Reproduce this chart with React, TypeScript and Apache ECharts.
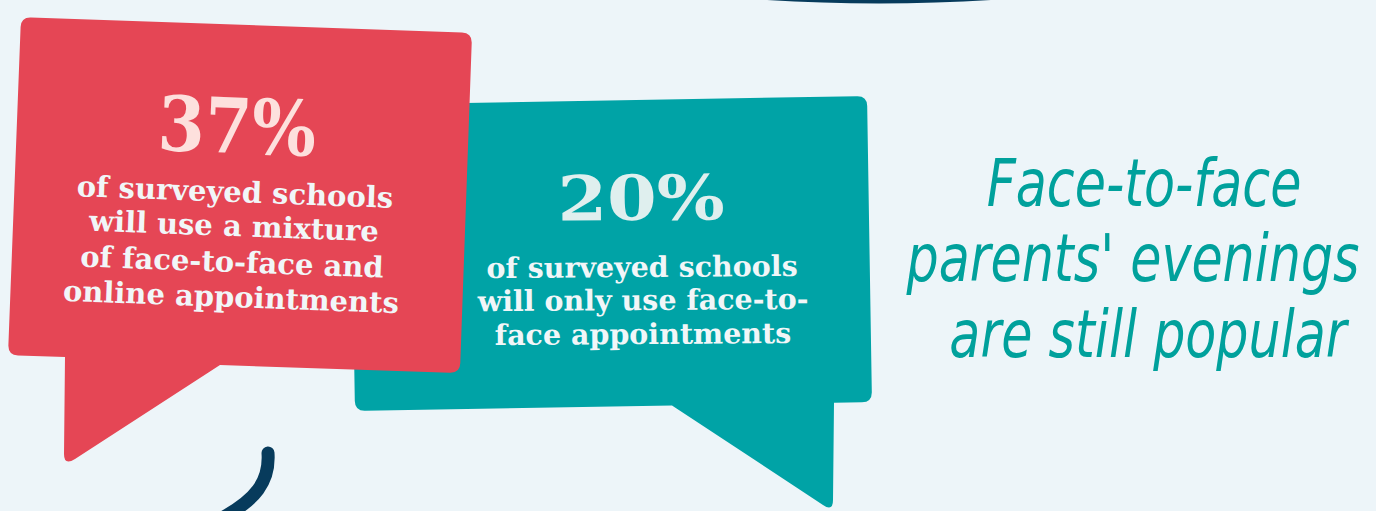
import React, { useEffect, useRef } from "react";
import * as echarts from "echarts";

// ---- data ----
const percentValues = [37, 20];
const redLines = [
  "of surveyed schools",
  "will use a mixture",
  "of face-to-face and",
  "online appointments",
];
const tealLines = [
  "of surveyed schools",
  "will only use face-to-",
  "face appointments",
];
const headlineLines = ["Face-to-face", "parents' evenings", "are still popular"];

const BG = "#edf5f9";
const RED = "#e54655";
const TEAL = "#00a3a6";
const NAVY = "#073b5c";
const SLAB = "'DejaVu Serif', serif";
const SCRIPT = "'DejaVu Sans', sans-serif";

const redPath =
  "M31,17.4 L462,32.6 Q472,33 471.7,43 L460.3,363 Q460,373 450,372.7 L220,365 L75,459 Q64,466 64,454 L65,357 L18,355.6 Q8,355 8.4,345 L20.6,27 Q21,17 31,17.4 Z";
const tealPath =
  "M360,104.8 L857,96.2 Q867,96 867.2,106 L871.8,392 Q872,402 862,402.2 L834,402.7 L833,500 Q833,512 823,505 L672,405.5 L365,410.8 Q355,411 354.8,401 L350.2,115 Q350,105 360,104.8 Z";

echarts.graphic.registerShape("redBubble", echarts.graphic.extendPath(redPath, {}) as any);
echarts.graphic.registerShape("tealBubble", echarts.graphic.extendPath(tealPath, {}) as any);

const deg = (d: number) => (d * Math.PI) / 180;

export default function App() {
  const ref = useRef<HTMLDivElement>(null);
  useEffect(() => {
    document.body.style.margin = "0";
    const chart = echarts.init(ref.current!, undefined, { renderer: "svg" });

    const redRot = deg(-2.1);
    const redBodyPos = [
      [235, 192],
      [234, 226],
      [232, 262],
      [231, 297],
    ];
    const tealBodyPos = [
      [642, 267],
      [643, 300],
      [643, 334],
    ];
    const headPos = [
      [1144, 184],
      [1133, 259],
      [1148, 335],
    ];

    const elements: any[] = [
      {
        type: "ellipse",
        shape: { cx: 879, cy: -200, rx: 603, ry: 203.5 },
        style: { fill: NAVY },
      },
      {
        type: "bezierCurve",
        shape: { x1: 268, y1: 453, cpx1: 270, cpy1: 482, cpx2: 255, cpy2: 500, x2: 222, y2: 518 },
        style: { stroke: NAVY, lineWidth: 13, lineCap: "round", fill: null },
      },
      { type: "tealBubble", style: { fill: TEAL } },
      { type: "redBubble", style: { fill: RED } },
      {
        type: "text",
        x: 237,
        y: 126,
        rotation: redRot,
        scaleX: 0.89,
        style: {
          text: percentValues[0] + "%",
          fill: "#fde0dd",
          font: `bold 76px ${SLAB}`,
          align: "center",
          verticalAlign: "middle",
        },
      },
      ...redLines.map((t, i) => ({
        type: "text",
        x: redBodyPos[i][0],
        y: redBodyPos[i][1],
        rotation: redRot,
        style: {
          text: t,
          fill: "#f1f6f8",
          font: `bold 29px ${SLAB}`,
          align: "center",
          verticalAlign: "middle",
        },
      })),
      {
        type: "text",
        x: 641,
        y: 198,
        rotation: deg(0.4),
        scaleX: 1.15,
        style: {
          text: percentValues[1] + "%",
          fill: "#dfefee",
          font: `bold 62px ${SLAB}`,
          align: "center",
          verticalAlign: "middle",
        },
      },
      ...tealLines.map((t, i) => ({
        type: "text",
        x: tealBodyPos[i][0],
        y: tealBodyPos[i][1],
        rotation: deg(0.4),
        style: {
          text: t,
          fill: "#f1f6f8",
          font: `bold 28.5px ${SLAB}`,
          align: "center",
          verticalAlign: "middle",
        },
      })),
      ...headlineLines.map((t, i) => ({
        type: "text",
        x: headPos[i][0],
        y: headPos[i][1],
        scaleX: 0.78,
        style: {
          text: t,
          fill: "#00a19c",
          font: `italic 200 65px ${SCRIPT}`,
          align: "center",
          verticalAlign: "middle",
        },
      })),
    ];

    chart.setOption({
      animation: false,
      backgroundColor: BG,
      graphic: { elements },
    });
    return () => chart.dispose();
  }, []);
  return <div ref={ref} style={{ width: 1376, height: 511 }} />;
}
